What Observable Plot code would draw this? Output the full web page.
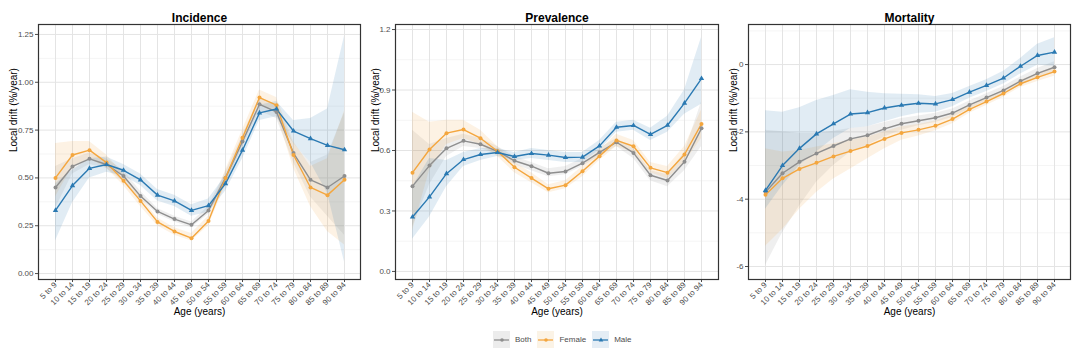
<!DOCTYPE html>
<html>
<head>
<meta charset="utf-8">
<script src="https://cdn.jsdelivr.net/npm/d3@7"></script>
<script src="https://cdn.jsdelivr.net/npm/@observablehq/plot@0.6"></script>
<style>
  body { margin: 0; background: white; font-family: "Liberation Sans", Arial, sans-serif; }
  #wrap { position: relative; width: 1080px; height: 360px; overflow: hidden; }
  .pan { position: absolute; top: 0; }
  #legend { position: absolute; top: 331px; left: 493px; display: flex; align-items: center; font-size: 8px; color: #4d4d4d; }
  #legend .item { display: flex; align-items: center; margin-right: 6px; }
  #legend svg { margin-right: 5px; }
</style>
</head>
<body>
<div id="wrap"></div>
<script>
const ages = ["5 to 9","10 to 14","15 to 19","20 to 24","25 to 29","30 to 34","35 to 39","40 to 44","45 to 49","50 to 54","55 to 59","60 to 64","65 to 69","70 to 74","75 to 79","80 to 84","85 to 89","90 to 94"];
const seriesNames = ["Both", "Female", "Male"];
const lineColors = ["#8e8e8e", "#F4A63E", "#2A79B2"];

// Incidence
const incBoth   = [0.45,0.56,0.60,0.57,0.51,0.405,0.325,0.285,0.255,0.33,0.50,0.69,0.885,0.845,0.63,0.49,0.45,0.51];
const incFemale = [0.50,0.62,0.645,0.58,0.485,0.38,0.27,0.22,0.185,0.275,0.50,0.71,0.92,0.88,0.62,0.45,0.41,0.49];
const incMale   = [0.33,0.46,0.55,0.57,0.54,0.49,0.41,0.38,0.33,0.355,0.47,0.645,0.84,0.86,0.745,0.705,0.67,0.647];
const incBothLo   = [0.34,0.52,0.57,0.55,0.48,0.39,0.31,0.27,0.24,0.31,0.47,0.66,0.85,0.81,0.58,0.40,0.30,0.20];
const incBothHi   = [0.56,0.60,0.63,0.60,0.54,0.43,0.34,0.30,0.27,0.35,0.53,0.72,0.92,0.88,0.68,0.58,0.62,0.84];
const incFemaleLo = [0.40,0.56,0.60,0.55,0.46,0.35,0.25,0.20,0.17,0.25,0.46,0.67,0.88,0.84,0.55,0.35,0.22,0.15];
const incFemaleHi = [0.68,0.69,0.69,0.62,0.52,0.40,0.29,0.24,0.21,0.30,0.54,0.75,0.96,0.92,0.69,0.56,0.60,0.85];
const incMaleLo   = [0.17,0.37,0.50,0.53,0.51,0.46,0.38,0.35,0.30,0.32,0.43,0.60,0.80,0.82,0.68,0.58,0.42,0.06];
const incMaleHi   = [0.47,0.54,0.60,0.61,0.57,0.52,0.44,0.41,0.36,0.39,0.51,0.68,0.88,0.90,0.80,0.81,0.86,1.24];

// Prevalence
const prevBoth   = [0.423,0.525,0.611,0.648,0.631,0.596,0.549,0.522,0.487,0.496,0.537,0.591,0.641,0.588,0.477,0.451,0.544,0.71];
const prevFemale = [0.49,0.605,0.686,0.704,0.661,0.596,0.517,0.463,0.41,0.428,0.497,0.572,0.65,0.621,0.514,0.49,0.58,0.732];
const prevMale   = [0.27,0.37,0.485,0.555,0.58,0.59,0.57,0.585,0.577,0.565,0.567,0.623,0.715,0.724,0.68,0.725,0.835,0.957];
const prevBothLo   = [0.22,0.43,0.57,0.62,0.61,0.58,0.53,0.50,0.47,0.48,0.52,0.57,0.62,0.56,0.45,0.42,0.50,0.62];
const prevBothHi   = [0.70,0.63,0.66,0.68,0.66,0.62,0.57,0.54,0.51,0.52,0.56,0.61,0.66,0.61,0.50,0.48,0.59,0.84];
const prevFemaleLo = [0.20,0.50,0.63,0.66,0.63,0.57,0.49,0.44,0.39,0.41,0.47,0.55,0.62,0.59,0.49,0.46,0.54,0.66];
const prevFemaleHi = [0.79,0.74,0.75,0.75,0.70,0.62,0.54,0.49,0.43,0.45,0.52,0.60,0.68,0.65,0.54,0.52,0.62,0.80];
const prevMaleLo   = [0.16,0.27,0.42,0.52,0.55,0.57,0.55,0.56,0.55,0.54,0.54,0.60,0.69,0.70,0.65,0.69,0.78,0.83];
const prevMaleHi   = [0.42,0.56,0.55,0.59,0.61,0.61,0.59,0.61,0.60,0.59,0.59,0.65,0.74,0.75,0.71,0.77,0.90,1.16];

// Mortality
const mortBoth   = [-3.79,-3.23,-2.89,-2.64,-2.42,-2.21,-2.10,-1.91,-1.76,-1.67,-1.58,-1.44,-1.20,-0.98,-0.77,-0.49,-0.26,-0.08];
const mortFemale = [-3.87,-3.38,-3.10,-2.92,-2.73,-2.57,-2.42,-2.21,-2.03,-1.94,-1.82,-1.62,-1.33,-1.10,-0.86,-0.57,-0.38,-0.21];
const mortMale   = [-3.74,-3.00,-2.49,-2.06,-1.76,-1.47,-1.43,-1.29,-1.21,-1.15,-1.17,-1.04,-0.82,-0.62,-0.40,-0.05,0.27,0.37];
const mortBothLo   = [-5.97,-5.0,-4.2,-3.5,-3.0,-2.6,-2.4,-2.15,-1.95,-1.82,-1.72,-1.57,-1.32,-1.09,-0.89,-0.62,-0.40,-0.25];
const mortBothHi   = [-1.95,-2.0,-2.05,-2.05,-1.98,-1.9,-1.85,-1.72,-1.6,-1.53,-1.45,-1.32,-1.08,-0.87,-0.65,-0.37,-0.12,0.08];
const mortFemaleLo = [-5.4,-4.9,-4.3,-3.8,-3.4,-3.1,-2.8,-2.5,-2.25,-2.12,-1.97,-1.76,-1.45,-1.22,-0.97,-0.68,-0.5,-0.35];
const mortFemaleHi = [-2.5,-2.6,-2.55,-2.45,-2.35,-2.25,-2.15,-2.0,-1.85,-1.78,-1.68,-1.5,-1.22,-1.0,-0.76,-0.47,-0.27,-0.08];
const mortMaleLo   = [-4.3,-3.6,-3.0,-2.6,-2.2,-1.9,-1.85,-1.7,-1.55,-1.45,-1.42,-1.25,-1.0,-0.8,-0.58,-0.28,-0.02,-0.05];
const mortMaleHi   = [-1.37,-1.42,-1.28,-1.07,-0.92,-0.75,-0.82,-0.87,-0.88,-0.9,-0.95,-0.86,-0.65,-0.45,-0.2,0.18,0.6,0.8];

function rows(series, v, lo, hi) {
  return ages.map((age, i) => ({age, series, v: v[i], lo: lo[i], hi: hi[i]}));
}
const incData = [...rows("Both", incBoth, incBothLo, incBothHi), ...rows("Female", incFemale, incFemaleLo, incFemaleHi), ...rows("Male", incMale, incMaleLo, incMaleHi)];
const prevData = [...rows("Both", prevBoth, prevBothLo, prevBothHi), ...rows("Female", prevFemale, prevFemaleLo, prevFemaleHi), ...rows("Male", prevMale, prevMaleLo, prevMaleHi)];
const mortData = [...rows("Both", mortBoth, mortBothLo, mortBothHi), ...rows("Female", mortFemale, mortFemaleLo, mortFemaleHi), ...rows("Male", mortMale, mortMaleLo, mortMaleHi)];

function panel({title, data, domain, ticks, minor, fmt, width, marginLeft, marginRight}) {
  return Plot.plot({
    width, height: 322, marginTop: 24, marginBottom: 43, marginLeft, marginRight,
    style: {fontFamily: "Liberation Sans, Arial, sans-serif", fontSize: "8px", color: "#4d4d4d", background: "white", overflow: "visible"},
    x: {type: "point", domain: ages, padding: 0.6, label: null},
    y: {domain, label: null},
    color: {domain: seriesNames, range: lineColors},
    symbol: {domain: seriesNames, range: ["circle", "circle", "triangle"]},
    marks: [
      Plot.gridY(minor, {stroke: "#f2f2f2", strokeOpacity: 1, strokeWidth: 0.8}),
      Plot.gridY(ticks, {stroke: "#e4e4e4", strokeOpacity: 1}),
      Plot.gridX(ages, {stroke: "#e4e4e4", strokeOpacity: 1}),
      Plot.areaY(data, {x: "age", y1: "lo", y2: "hi", fill: "series", z: "series", fillOpacity: 0.14}),
      Plot.lineY(data, {x: "age", y: "v", stroke: "series", z: "series", strokeWidth: 1.4}),
      Plot.dot(data, {x: "age", y: "v", fill: "series", symbol: "series", r: 2, stroke: null}),
      Plot.axisY({ticks, tickFormat: fmt, tickSize: 3, tickPadding: 2, label: null}),
      Plot.axisX({tickRotate: -45, tickSize: 3, tickPadding: 1, label: null}),
      Plot.frame({stroke: "#333", strokeWidth: 1.2}),
      Plot.text([title], {frameAnchor: "top", dy: -11, fontWeight: "bold", fontSize: 12, fill: "black"}),
      Plot.text(["Local drift (%/year)"], {frameAnchor: "left", dx: -(marginLeft - 13), rotate: -90, fontSize: 10, fill: "black"}),
      Plot.text(["Age (years)"], {frameAnchor: "bottom", dy: 35, fontSize: 10, fill: "black"})
    ]
  });
}

const wrap = document.getElementById("wrap");
const specs = [
  {left: 0, title: "Incidence", data: incData, domain: [-0.031, 1.302], ticks: [0, 0.25, 0.5, 0.75, 1, 1.25], minor: [0.125, 0.375, 0.625, 0.875, 1.125], fmt: d3.format(".2f"), width: 362, marginLeft: 38, marginRight: 2},
  {left: 362, title: "Prevalence", data: prevData, domain: [-0.04, 1.225], ticks: [0, 0.3, 0.6, 0.9, 1.2], minor: [0.15, 0.45, 0.75, 1.05], fmt: d3.format(".1f"), width: 358, marginLeft: 33, marginRight: 2},
  {left: 720, title: "Mortality", data: mortData, domain: [-6.386, 1.19], ticks: [-6, -4, -2, 0], minor: [-5, -3, -1, 1], fmt: d => String(d), width: 360, marginLeft: 28, marginRight: 10}
];
for (const s of specs) {
  const div = document.createElement("div");
  div.className = "pan";
  div.style.left = s.left + "px";
  div.appendChild(panel(s));
  wrap.appendChild(div);
}

// Legend
const legend = document.createElement("div");
legend.id = "legend";
seriesNames.forEach((name, i) => {
  const item = document.createElement("div");
  item.className = "item";
  const c = lineColors[i];
  const sym = name === "Male"
    ? `<path d="M9,6.5 L11.3,10.5 L6.7,10.5 Z" fill="${c}"/>`
    : `<circle cx="9" cy="9" r="1.8" fill="${c}"/>`;
  item.innerHTML = `<svg width="17" height="17"><rect width="17" height="17" fill="${i === 1 ? "#fbf3e6" : i === 2 ? "#e4edf5" : "#ececec"}"/><line x1="1" x2="16" y1="9" y2="9" stroke="${c}" stroke-width="1.3"/>${sym}</svg><span>${name}</span>`;
  legend.appendChild(item);
});
wrap.appendChild(legend);
</script>
</body>
</html>
